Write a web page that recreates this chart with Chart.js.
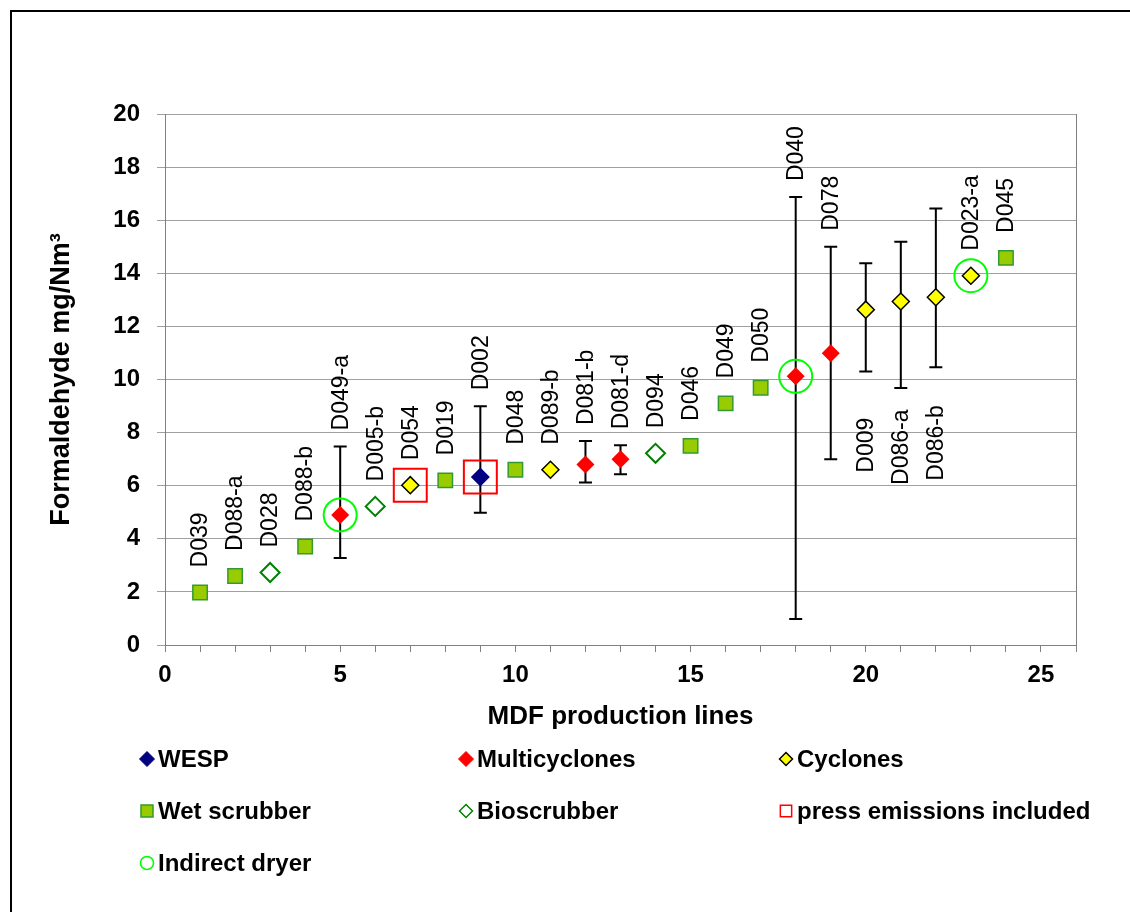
<!DOCTYPE html>
<html><head><meta charset="utf-8">
<script src="https://cdn.jsdelivr.net/npm/chart.js@4"></script>
<style>html,body{margin:0;padding:0;background:#fff}canvas{display:block}</style>
</head><body>
<canvas id="c" width="1130" height="912"></canvas>
<script>
// ---- data ----
const lines = [1,2,3,4,5,6,7,8,9,10,11,12,13,14,15,16,17,18,19,20,21,22,23,24];
const codes = ['D039','D088-a','D028','D088-b','D049-a','D005-b','D054','D019','D002','D048','D089-b','D081-b','D081-d','D094','D046','D049','D050','D040','D078','D009','D086-a','D086-b','D023-a','D045'];
const values = [1.98,2.6,2.73,3.71,4.9,5.22,6.02,6.2,6.33,6.6,6.6,6.8,7.0,7.22,7.5,9.1,9.69,10.12,10.99,12.63,12.94,13.1,13.91,14.58];
const technique = ['Wet scrubber','Wet scrubber','Bioscrubber','Wet scrubber','Multicyclones','Bioscrubber','Cyclones','Wet scrubber','WESP','Wet scrubber','Cyclones','Multicyclones','Multicyclones','Bioscrubber','Wet scrubber','Wet scrubber','Wet scrubber','Multicyclones','Multicyclones','Cyclones','Cyclones','Cyclones','Cyclones','Wet scrubber'];
const errLow  = [null,null,null,null,3.28,null,null,null,4.98,null,null,6.12,6.43,null,null,null,null,0.98,7.0,10.3,9.68,10.46,null,null];
const errHigh = [null,null,null,null,7.48,null,null,null,8.99,null,null,7.68,7.52,null,null,null,null,16.87,15.0,14.38,15.19,16.44,null,null];
const labelSide = ['above','above','above','above','above','above','above','above','above','above','above','above','above','above','above','above','above','above','above','below','below','below','above','above'];
const pressIncludedLines = [7,9];
const indirectDryerLines = [5,18,23];
const techniques = ['WESP','Multicyclones','Cyclones','Wet scrubber','Bioscrubber'];
const yTicks = [0,2,4,6,8,10,12,14,16,18,20];

// ---- styles ----
const FONT = '"Liberation Sans", Arial, Helvetica, sans-serif';
Chart.defaults.font.family = FONT;
Chart.defaults.color = '#000';
const styleOf = {
  'WESP':          {pointStyle:'rectRot', radius:9.5, bg:'#000080', border:'#000080', bw:0, lr:7.5},
  'Multicyclones': {pointStyle:'rectRot', radius:9,   bg:'#FF0000', border:'#FF0000', bw:0, lr:7.5},
  'Cyclones':      {pointStyle:'rectRot', radius:8.5, bg:'#FFFF00', border:'#000000', bw:1.5, lr:6.5},
  'Wet scrubber':  {pointStyle:'rect',    radius:10.2, bg:'#99CC00', border:'#339933', bw:1.5, lr:8.5},
  'Bioscrubber':   {pointStyle:'rectRot', radius:9.5, bg:'#FFFFFF', border:'#008000', bw:2, lr:6.5},
  'press emissions included': {pointStyle:'rect', radius:23.3, bg:'rgba(0,0,0,0)', border:'#FF0000', bw:2, lr:8},
  'Indirect dryer': {pointStyle:'circle', radius:16.5, bg:'rgba(0,0,0,0)', border:'#00FF00', bw:2, lr:6.5}
};

function ds(label, pts, order){
  const s = styleOf[label];
  return {label, data: pts, showLine:false, order,
    pointStyle:s.pointStyle, pointRadius:s.radius, pointHoverRadius:s.radius,
    backgroundColor:s.bg, borderColor:s.border, borderWidth:s.bw, pointBorderWidth:s.bw};
}
const datasets = techniques.map(t => ds(t,
  lines.map((x,i)=> technique[i]===t ? {x, y: values[i]} : null).filter(p=>p), 2));
datasets.push(ds('press emissions included', pressIncludedLines.map(l=>({x:l, y:values[lines.indexOf(l)]})), 1));
datasets.push(ds('Indirect dryer', indirectDryerLines.map(l=>({x:l, y:values[lines.indexOf(l)]})), 1));

const framePlugin = {
  id:'frame',
  beforeDraw(chart){
    const c = chart.ctx; c.save(); c.fillStyle='#fff'; c.fillRect(0,0,chart.width,chart.height); c.restore();
  },
  afterDraw(chart){
    const c = chart.ctx; c.save();
    c.strokeStyle='#000'; c.lineWidth=2;
    c.beginPath(); c.moveTo(11, chart.height); c.lineTo(11, 11); c.lineTo(chart.width, 11); c.stroke();
    const a = chart.chartArea;
    c.strokeStyle='#808080'; c.lineWidth=1;
    c.beginPath(); c.moveTo(Math.round(a.right)+0.5, a.top); c.lineTo(Math.round(a.right)+0.5, a.bottom); c.stroke();
    c.restore();
  }
};

const errorBarPlugin = {
  id:'errbars',
  beforeDatasetsDraw(chart){
    const c = chart.ctx, xs = chart.scales.x, ys = chart.scales.y;
    c.save(); c.strokeStyle='#000'; c.lineWidth=2;
    lines.forEach((l,i)=>{
      if (errLow[i]==null) return;
      const x = xs.getPixelForValue(l), y1 = ys.getPixelForValue(errHigh[i]), y2 = ys.getPixelForValue(errLow[i]);
      c.beginPath(); c.moveTo(x,y1); c.lineTo(x,y2);
      c.moveTo(x-6.5,y1); c.lineTo(x+6.5,y1);
      c.moveTo(x-6.5,y2); c.lineTo(x+6.5,y2);
      c.stroke();
    });
    c.restore();
  }
};

const labelPlugin = {
  id:'ptlabels',
  afterDatasetsDraw(chart){
    const c = chart.ctx, xs = chart.scales.x, ys = chart.scales.y;
    c.save(); c.fillStyle='#000'; c.font = '23px ' + FONT; c.textBaseline='middle';
    lines.forEach((l,i)=>{
      const x = xs.getPixelForValue(l), yp = ys.getPixelForValue(values[i]);
      let anchor;
      c.save();
      if (labelSide[i]==='above'){
        anchor = yp - 25;
        if (errHigh[i]!=null) anchor = Math.min(anchor, ys.getPixelForValue(errHigh[i]) - 16);
        c.translate(x, anchor); c.rotate(-Math.PI/2); c.textAlign='left';
      } else {
        anchor = yp + 108;
        c.translate(x, anchor); c.rotate(-Math.PI/2); c.textAlign='right';
      }
      c.fillText(codes[i], 0, 1);
      c.restore();
    });
    c.restore();
  }
};

const legendPlugin = {
  id:'customLegend',
  afterDraw(chart){
    const c = chart.ctx, a = chart.chartArea;
    const items = ['WESP','Multicyclones','Cyclones','Wet scrubber','Bioscrubber','press emissions included','Indirect dryer'];
    const colX = [a.left-18, a.left+301, a.left+621];
    const rowY = [a.bottom+114, a.bottom+166, a.bottom+218];
    c.save();
    c.font = 'bold 24px ' + FONT; c.textBaseline='middle'; c.textAlign='left'; c.fillStyle='#000';
    items.forEach((name,k)=>{
      const s = styleOf[name];
      const x = colX[k%3], y = rowY[Math.floor(k/3)];
      c.save();
      c.fillStyle = s.bg; c.strokeStyle = s.border; c.lineWidth = Math.min(s.bw||0, 1.5);
      Chart.helpers.drawPoint(c, {pointStyle:s.pointStyle, radius:s.lr, borderWidth:c.lineWidth, rotation:0}, x, y);
      c.restore();
      c.fillText(name, x+11, y+1);
    });
    c.restore();
  }
};

new Chart(document.getElementById('c'), {
  type:'scatter',
  data:{datasets},
  options:{
    responsive:false, animation:false, devicePixelRatio:1,
    layout:{padding:{left:0, top:114, right:54, bottom:167}},
    plugins:{legend:{display:false}, tooltip:{enabled:false}},
    scales:{
      x:{type:'linear', min:0, max:26, position:'bottom',
        ticks:{stepSize:1, autoSkip:false, maxRotation:0, minRotation:0, padding:9, color:'#000',
          font:{size:24, weight:'bold'}, callback:v => (v%5===0 ? String(v) : '')},
        grid:{drawOnChartArea:false, drawTicks:true, tickLength:7, color:'#808080'},
        border:{color:'#808080', width:1},
        title:{display:true, text:'MDF production lines', color:'#000', font:{size:26, weight:'bold'}, padding:{top:0, bottom:13}},
        afterFit(s){ s.height = 100; }
      },
      y:{type:'linear', min:0, max:20,
        afterBuildTicks(s){ s.ticks = yTicks.map(v=>({value:v})); },
        ticks:{padding:17, color:'#000', font:{size:24, weight:'bold'}},
        grid:{color:'#a0a0a0', tickLength:8, drawTicks:true},
        border:{color:'#808080', width:1},
        title:{display:true, text:'Formaldehyde mg/Nm³', color:'#000', font:{size:27, weight:'bold'}, padding:{top:45, bottom:0}},
        afterFit(s){ s.width = 165; }
      }
    }
  },
  plugins:[framePlugin, errorBarPlugin, labelPlugin, legendPlugin]
});
</script>
</body></html>
